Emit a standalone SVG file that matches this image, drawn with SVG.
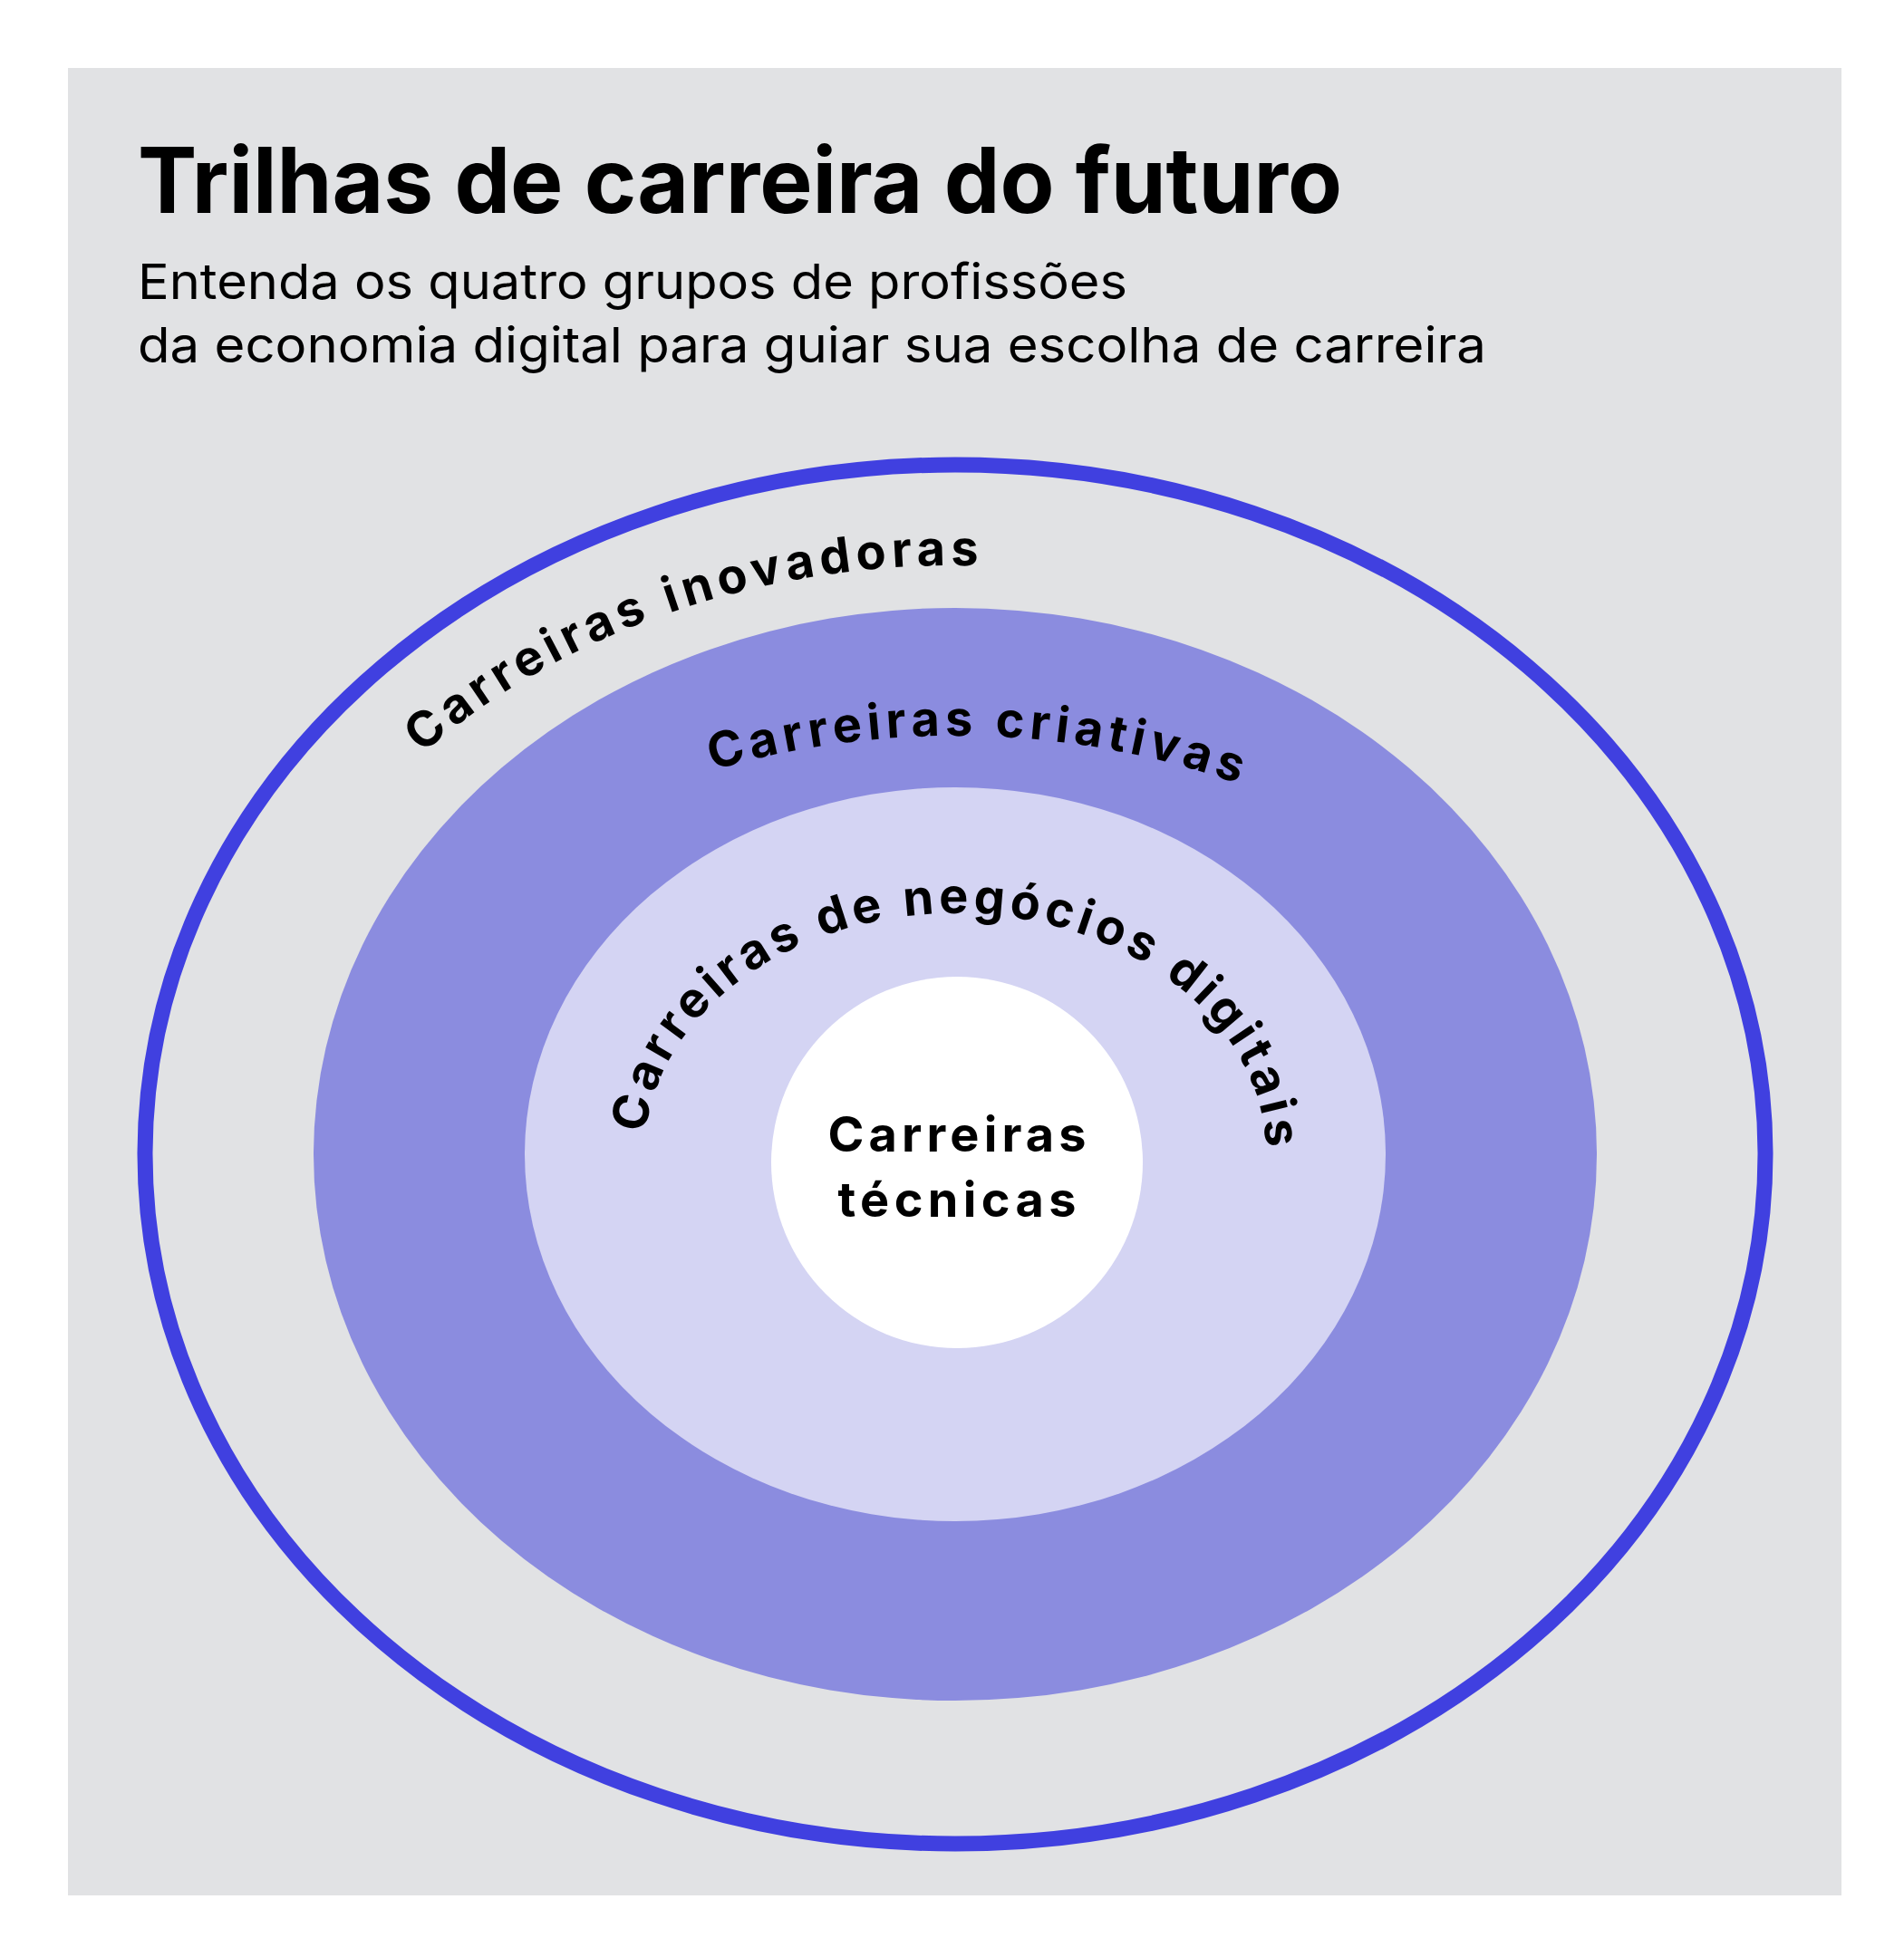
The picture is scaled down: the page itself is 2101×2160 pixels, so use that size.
<svg xmlns="http://www.w3.org/2000/svg" width="2101" height="2160" viewBox="0 0 2101 2160">
<style>
.t{font-family:Inter,"Liberation Sans",sans-serif;fill:#000}
.b{font-weight:700}
.lab{font-family:Inter,"Liberation Sans",sans-serif;font-weight:700;font-size:54px;fill:#000}
</style>
<defs>
<path id="p1" d="M252,1274 A802,650 0 0 1 1856,1274"/>
<path id="p2" d="M384,1274 A670,462 0 0 1 1724,1274"/>
<path id="p3" d="M711,1274 A343,266 0 0 1 1397,1274"/>
</defs>
<rect width="2101" height="2160" fill="#fff"/>
<rect x="75" y="75" width="1957" height="2017" fill="#E1E2E4"/>
<g id="header">
<text class="t b" x="152" y="235" font-size="100" textLength="1329" lengthAdjust="spacingAndGlyphs">Trilhas de carreira do futuro</text>
<text class="t" x="152" y="330" font-size="54" textLength="1092" lengthAdjust="spacingAndGlyphs">Entenda os quatro grupos de profissões</text>
<text class="t" x="152" y="400" font-size="54" textLength="1488" lengthAdjust="spacingAndGlyphs">da economia digital para guiar sua escolha de carreira</text>
</g>
<g id="inovadoras">
<ellipse cx="1054" cy="1274" rx="894" ry="761" fill="none" stroke="#4040E0" stroke-width="17"/>
<text class="lab" textLength="663" lengthAdjust="spacing"><textPath href="#p1" startOffset="506">Carreiras inovadoras</textPath></text>
</g>
<g id="criativas">
<ellipse cx="1054" cy="1274" rx="708" ry="603" fill="#8B8CDF"/>
<text class="lab" textLength="590" lengthAdjust="spacing"><textPath href="#p2" startOffset="625">Carreiras criativas</textPath></text>
</g>
<g id="negocios">
<ellipse cx="1054" cy="1274" rx="475" ry="405" fill="#D4D4F3"/>
<text class="lab" textLength="930" lengthAdjust="spacing"><textPath href="#p3" startOffset="23">Carreiras de negócios digitais</textPath></text>
</g>
<g id="tecnicas">
<circle cx="1056" cy="1283" r="205" fill="#fff"/>
<text class="lab" x="1056" y="1271" text-anchor="middle" textLength="285" lengthAdjust="spacing">Carreiras</text>
<text class="lab" x="1056" y="1343" text-anchor="middle" textLength="263" lengthAdjust="spacing">técnicas</text>
</g>
</svg>
